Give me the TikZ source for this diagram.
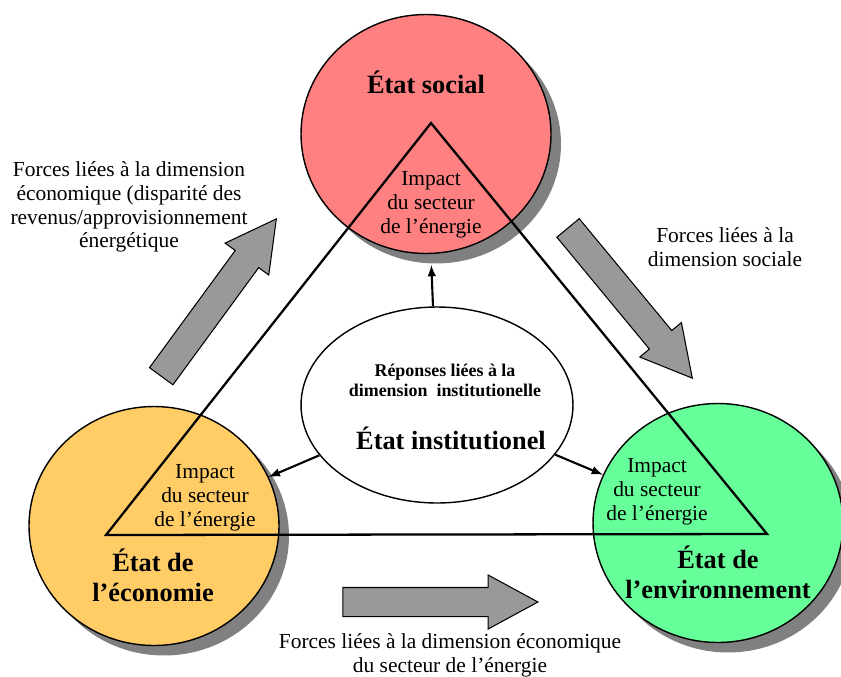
\documentclass[tikz,border=0pt]{standalone}
\usepackage{fontspec}
\setmainfont{Liberation Serif}
\usetikzlibrary{shapes.geometric,shapes.arrows,shadows}

\definecolor{socialfill}{RGB}{255,128,128}
\definecolor{ecofill}{RGB}{255,204,102}
\definecolor{envfill}{RGB}{102,255,153}

\begin{document}
\begin{tikzpicture}[x=0.02cm, y=-0.02cm, thick,
    etat/.style={ellipse, draw, line width=0.8pt, minimum width=5cm, minimum height=4.78cm,
      drop shadow={shadow xshift=0.2cm, shadow yshift=-0.2cm, fill=black!50, opacity=1}},
    titre/.style={align=center, font=\fontsize{15}{17}\selectfont\bfseries},
    impact/.style={align=center, font=\fontsize{12.2}{13.6}\selectfont},
    force/.style={single arrow, draw, fill=black!40, line width=0.6pt, inner xsep=0pt, inner ysep=0.28cm,
      minimum height=3.9cm, single arrow head extend=0.25cm, single arrow tip angle=57, anchor=tip}]
    \useasboundingbox (0,0) rectangle (841,676);
    % the three states
    \node[etat, fill=socialfill] (social) at (426,134) {};
    \node[etat, fill=ecofill] (eco) at (154,526) {};
    \node[etat, fill=envfill] (env) at (718,523) {};
    % triangle of the energy sector
    \coordinate (apex) at (431,123);
    \coordinate (baseL) at (106,535);
    \coordinate (baseR) at (767,534);
    \draw[line width=1.3pt] (baseL) -- (apex) -- (baseR) -- cycle;
    % institutional state
    \node[ellipse, draw, fill=white, line width=0.8pt, minimum width=5.44cm, minimum height=3.92cm] (inst) at (437,405) {};
    \node[align=center, font=\fontsize{10.2}{11.3}\selectfont\bfseries] (reponses) at (445,380) {Réponses liées à la\\dimension\ \ institutionelle};
    \node[titre] (instlabel) at (451,438) {État institutionel};
    \path[-latex, line width=1.2pt]
    (inst) edge [shorten >=0.22cm] (social)
    (inst) edge (eco)
    (inst) edge (env);
    % labels
    \node[titre] (sociallabel) at (426,82) {État social};
    \node[titre] (ecolabel) at (153,575) {État de\\l’économie};
    \node[titre] (envlabel) at (718,572) {État de\\l’environnement};
    \node[impact] (impactS) at (431,205) {Impact\\du secteur\\de l’énergie};
    \node[impact] (impactE) at (205,498) {Impact\\du secteur\\de l’énergie};
    \node[impact] (impactV) at (657,492) {Impact\\du secteur\\de l’énergie};
    % driving forces
    \node[force, rotate=53.8] (forceEco) at (277,218) {};
    \node[force, rotate=-50.4] (forceSoc) at (693,379) {};
    \node[force] (forceEner) at (539,602) {};
    \node[impact] (forceEcoLabel) at (129,207) {Forces liées à la dimension\\économique (disparité des\\revenus/approvisionnement\\énergétique};
    \node[impact] (forceSocLabel) at (725,247) {Forces liées à la\\dimension sociale};
    \node[impact] (forceEnerLabel) at (450,655) {Forces liées à la dimension économique\\du secteur de l’énergie};
\end{tikzpicture}
\end{document}
